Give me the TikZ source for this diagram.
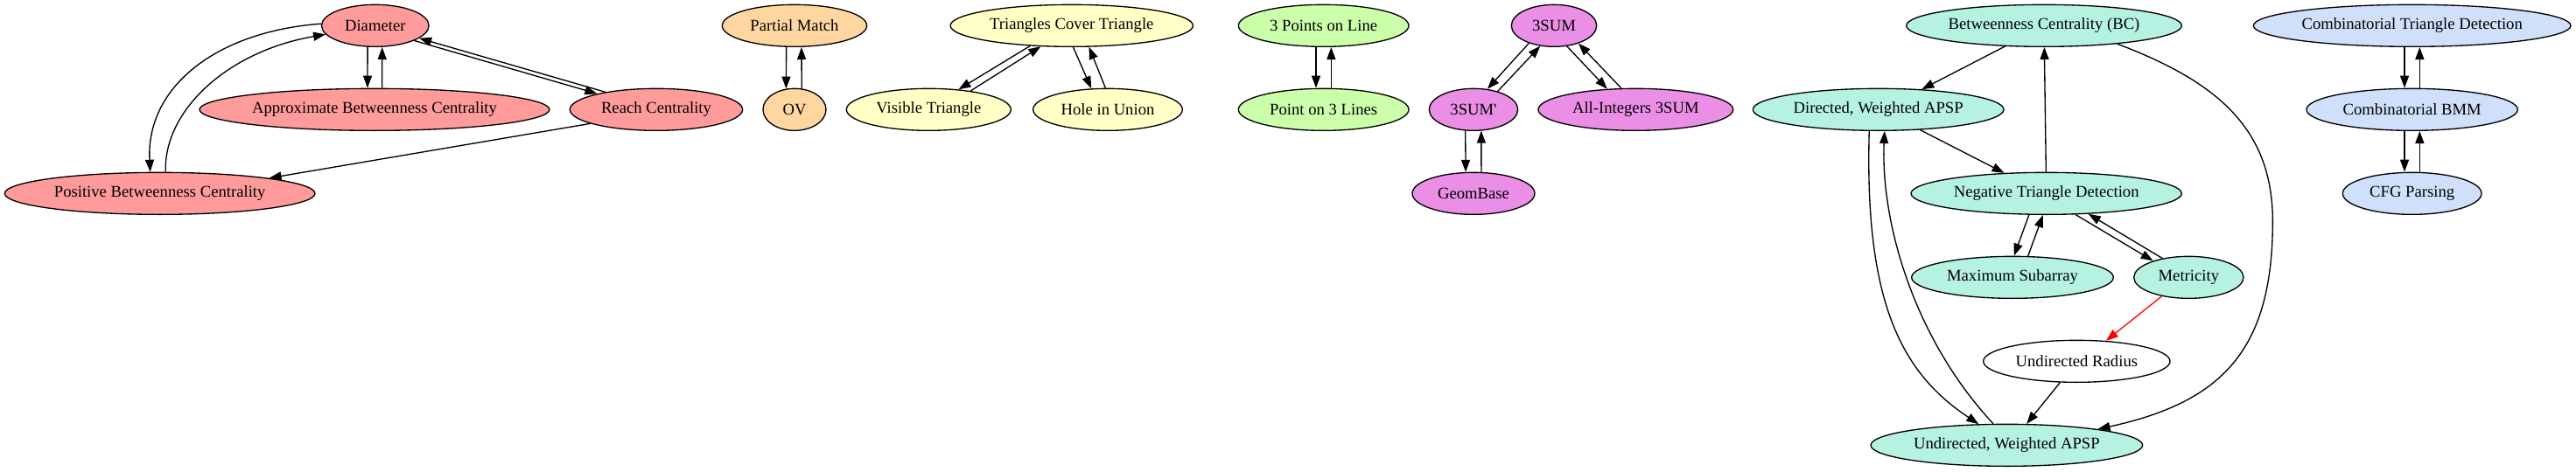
\documentclass[tikz,border=0pt]{standalone}
\usepackage{fontspec}
\newfontfamily\gvfont{Liberation Serif}
\usetikzlibrary{shapes.geometric,arrows.meta}
\definecolor{cred}{HTML}{FF9B9B}
\definecolor{corange}{HTML}{FFD6A0}
\definecolor{cyellow}{HTML}{FFFFC6}
\definecolor{cgreen}{HTML}{CCFFAA}
\definecolor{cviolet}{HTML}{EB8EE6}
\definecolor{cteal}{HTML}{B6F2E2}
\definecolor{cblue}{HTML}{D0E0FA}
\begin{document}
\begin{tikzpicture}[x=1pt,y=-1pt,
  gnode/.style={ellipse, draw=black, line width=1pt, minimum height=36pt, inner sep=0pt,
    font=\gvfont\fontsize{14pt}{16pt}\selectfont},
  arr/.style={-{Triangle[length=10.5pt,width=7.5pt]}, line width=1pt, draw=black},
  redarr/.style={arr, draw=red, -{Triangle[length=10.5pt,width=7.5pt,fill=red]}}]
\fill[white] (0,0) rectangle (2208,404.25);
\useasboundingbox (0,0) rectangle (2208,404.25);

% left component
\node[gnode, fill=cred, minimum width=92pt]  (Diam)   at (321.6,22) {Diameter};
\node[gnode, fill=cred, minimum width=300pt] (Approx) at (321,94)   {Approximate Betweenness Centrality};
\node[gnode, fill=cred, minimum width=148pt] (Reach)  at (562.5,94) {Reach Centrality};
\node[gnode, fill=cred, minimum width=266pt] (Pos)    at (137,166)  {Positive Betweenness Centrality};
% OV component
\node[gnode, fill=corange, minimum width=124pt] (PM) at (681,22) {Partial Match};
\node[gnode, fill=corange, minimum width=54pt]  (OV) at (681,94) {OV};
% triangles
\node[gnode, fill=cyellow, minimum width=208pt] (TCT)  at (918.6,22) {Triangles Cover Triangle};
\node[gnode, fill=cyellow, minimum width=141pt] (Vis)  at (796,94)   {Visible Triangle};
\node[gnode, fill=cyellow, minimum width=128pt] (Hole) at (949.5,94) {Hole in Union};
% points / lines
\node[gnode, fill=cgreen, minimum width=146pt] (TPL) at (1134.5,22) {3 Points on Line};
\node[gnode, fill=cgreen, minimum width=146pt] (PTL) at (1134.5,94) {Point on 3 Lines};
% 3SUM
\node[gnode, fill=cviolet, minimum width=73pt]  (S3)  at (1332,22) {3SUM};
\node[gnode, fill=cviolet, minimum width=76pt]  (S3p) at (1263,94) {3SUM'};
\node[gnode, fill=cviolet, minimum width=167pt] (AI)  at (1402,94) {All-Integers 3SUM};
\node[gnode, fill=cviolet, minimum width=105pt] (GB)  at (1263,166) {GeomBase};
% APSP component
\node[gnode, fill=cteal, minimum width=236pt] (BC)  at (1752,22)  {Betweenness Centrality (BC)};
\node[gnode, fill=cteal, minimum width=215pt] (Dir) at (1610,94)  {Directed, Weighted APSP};
\node[gnode, fill=cteal, minimum width=232pt] (NT)  at (1754,166) {Negative Triangle Detection};
\node[gnode, fill=cteal, minimum width=173pt] (MS)  at (1725,238) {Maximum Subarray};
\node[gnode, fill=cteal, minimum width=94pt]  (Met) at (1876,238) {Metricity};
\node[gnode, fill=white, minimum width=160pt] (UR)  at (1780,310) {Undirected Radius};
\node[gnode, fill=cteal, minimum width=233pt] (UA)  at (1720,382) {Undirected, Weighted APSP};
% combinatorial
\node[gnode, fill=cblue, minimum width=272pt] (CTD) at (2067.5,22)  {Combinatorial Triangle Detection};
\node[gnode, fill=cblue, minimum width=181pt] (BMM) at (2067.5,94)  {Combinatorial BMM};
\node[gnode, fill=cblue, minimum width=119pt] (CFG) at (2067.5,166) {CFG Parsing};

\coordinate (bcvia) at (1948,190);

% edges: left component
\draw[arr] ([xshift=-6.5pt]Diam.south) -- ([xshift=-6pt]Approx.north);
\draw[arr] ([xshift=6.5pt]Approx.north) -- ([xshift=6pt]Diam.south);
\draw[arr] (Diam.178) .. controls (185,27) and (125,75) .. (Pos.114);
\draw[arr] (Pos.75) .. controls (140,95) and (195,44) .. (Diam.190);
\draw[arr] (Diam.-21) -- (Reach.165);
\draw[arr] (Reach.161) -- (Diam.-16);
\draw[arr] (Reach.192.6) -- (Pos.8);
% OV
\draw[arr] ([xshift=-7pt]PM.south) -- (OV.112);
\draw[arr] (OV.71) -- ([xshift=6pt]PM.south);
% triangles
\draw[arr] (TCT.206) -- (Vis.34.4);
\draw[arr] (Vis.24.9) -- (TCT.214.7);
\draw[arr] (TCT.274.4) -- (Hole.128.3);
\draw[arr] (Hole.96.3) -- (TCT.-51);
% points
\draw[arr] ([xshift=-6.5pt]TPL.south) -- ([xshift=-6.5pt]PTL.north);
\draw[arr] ([xshift=6.5pt]PTL.north) -- ([xshift=6.5pt]TPL.south);
% 3SUM
\draw[arr] (S3.215.6) -- (S3p.56.8);
\draw[arr] (S3p.37.4) -- (S3.236.1);
\draw[arr] (S3.-58.6) -- (AI.144.4);
\draw[arr] (AI.124) -- (S3.-36);
\draw[arr] (S3p.249.8) -- (GB.110);
\draw[arr] (GB.70) -- (S3p.290.2);
% APSP component
\draw[arr] (BC.208.4) -- (Dir.25.9);
\draw[arr] (NT) -- (BC);
\draw[arr] (Dir.-26.9) -- (NT.154.1);
\draw[arr] (Dir.247.3) .. controls (1598,260) and (1630,320) .. (UA.143.7);
\draw[arr] (UA.122.1) .. controls (1640,290) and (1612,190) .. (Dir.-74.5);
\draw[arr] (BC.-14.7) .. controls (1900,70) and (1948,110) .. (bcvia)
                      .. controls (1948,300) and (1905,345) .. (UA.10.7);
\draw[arr] (NT.231.9) -- (MS.86);
\draw[arr] (MS.54.9) -- (NT.261.3);
\draw[arr] (NT.-36.8) -- (Met.155);
\draw[arr] (Met.144.5) -- (NT.-26.3);
\draw[redarr] (Met.215.5) -- (UR.35.9);
\draw[arr] (UR.232.2) -- (UA.47.6);
% combinatorial
\draw[arr] ([xshift=-6.5pt]CTD.south) -- ([xshift=-6.5pt]BMM.north);
\draw[arr] ([xshift=6.5pt]BMM.north) -- ([xshift=6.5pt]CTD.south);
\draw[arr] ([xshift=-6.5pt]BMM.south) -- ([xshift=-6.5pt]CFG.north);
\draw[arr] ([xshift=6.5pt]CFG.north) -- ([xshift=6.5pt]BMM.south);
\end{tikzpicture}
\end{document}
